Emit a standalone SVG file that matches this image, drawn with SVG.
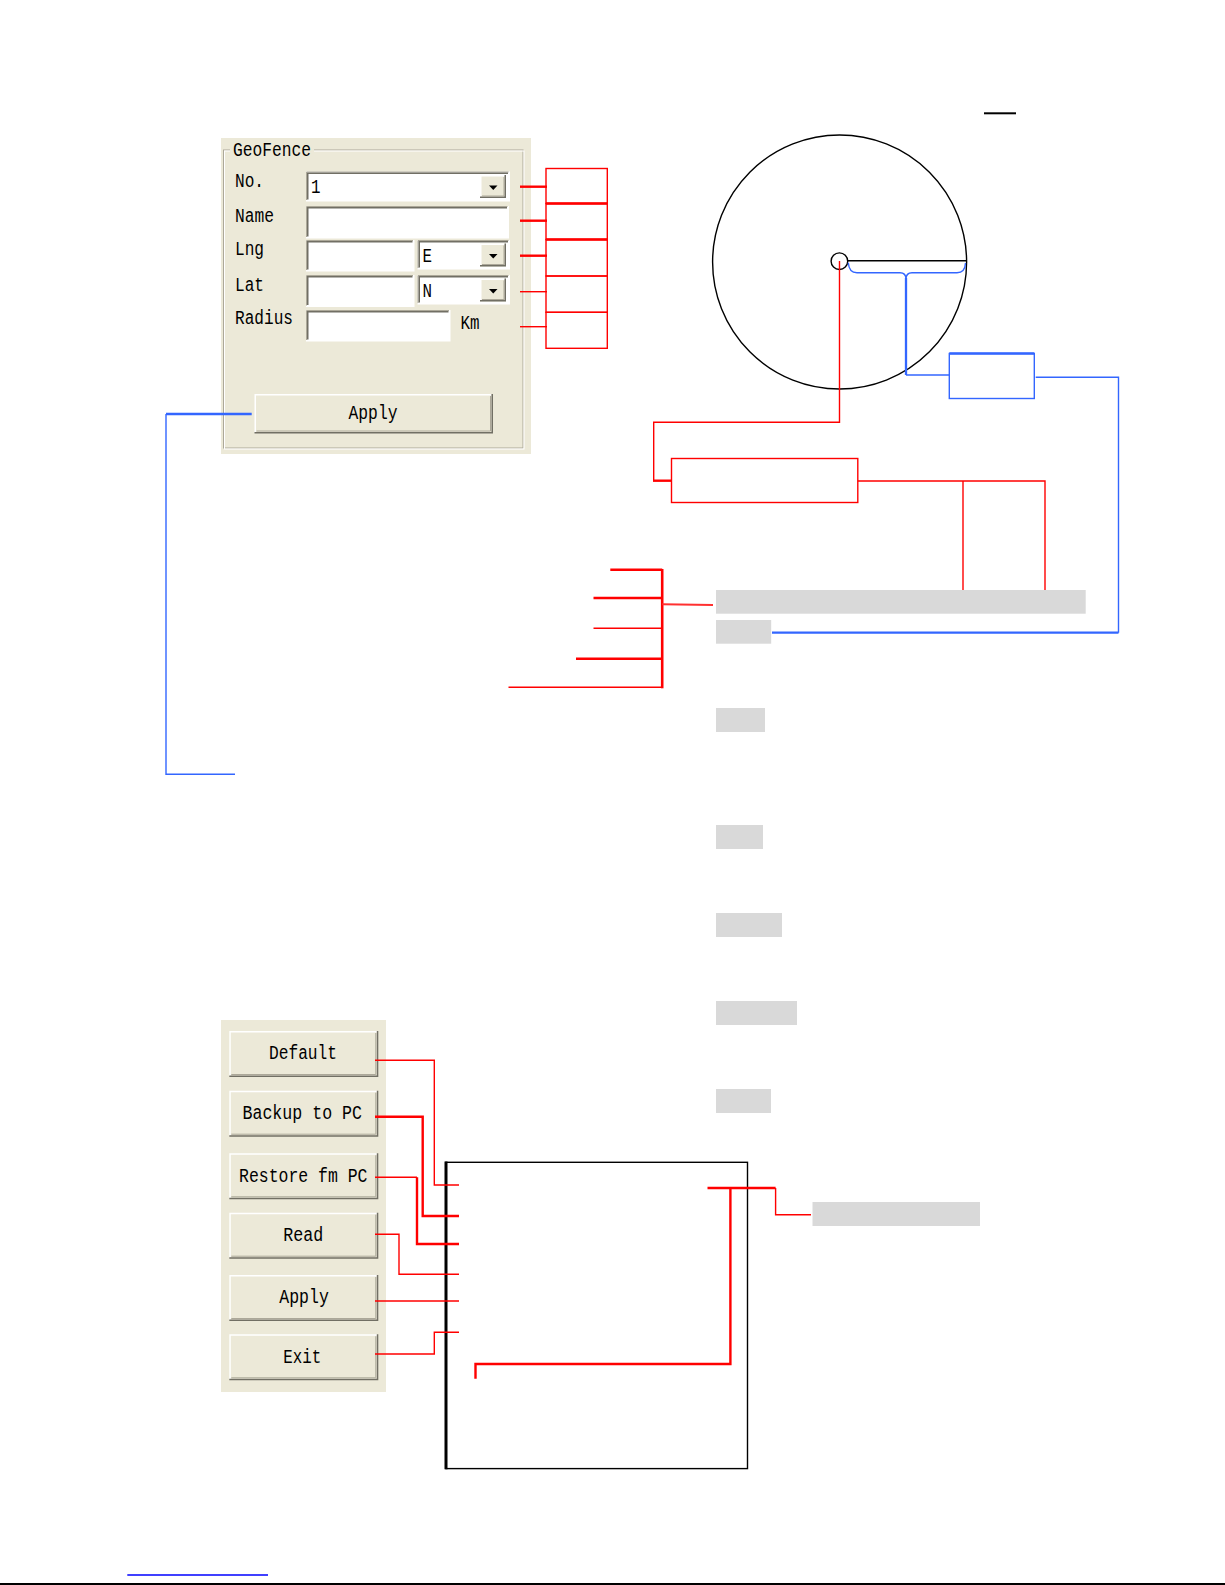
<svg xmlns="http://www.w3.org/2000/svg" xmlns:xlink="http://www.w3.org/1999/xlink" width="1225" height="1585" viewBox="0 0 1225 1585">
<style>
.bg{fill:#ECE9D8}
.ui{font-family:"Liberation Mono","DejaVu Sans Mono",monospace;font-size:20px;fill:#000}
.r{stroke:#FF0000;fill:none;stroke-width:1.4}
.rt{stroke:#FF0000;fill:none;stroke-width:2.4}
.b{stroke:#3366FF;fill:none;stroke-width:1.4}
.bt{stroke:#3366FF;fill:none;stroke-width:2.3}
.k{stroke:#000;fill:none;stroke-width:1.4}
.g{fill:#D9D9D9}
.hl{stroke:#FFFFFF;fill:none;stroke-width:1.5}
.sh{stroke:#716F64;fill:none;stroke-width:1.5}
.sh2{stroke:#ACA899;fill:none;stroke-width:1}
.fw{fill:#FFFFFF}
.tri{fill:#000}
</style>
<defs>
<g id="btn6">
<rect x="0" y="0" width="149" height="46" class="bg"/>
<path d="M0.75,45 V0.75 H148" class="hl"/>
<path d="M0,45.25 H148.25 V0" class="sh"/>
<path d="M2,43.5 H146.5 V2" class="sh2"/>
</g>
<g id="ddbtn">
<rect x="0" y="0" width="26" height="23" class="bg"/>
<path d="M0.75,22 V0.75 H25" class="hl"/>
<path d="M0,22.25 H25.25 V0" class="sh"/>
<path d="M2,21 H24 V2" class="sh2"/>
<path d="M9,10.5 H17.5 L13.25,15 Z" class="tri"/>
</g>
</defs>
<rect x="0" y="0" width="1225" height="1585" fill="#FFFFFF"/>

<g id="geofence-panel">
<rect x="221" y="138" width="310" height="316" class="bg"/>
<rect x="223.5" y="150" width="299.5" height="298" fill="none" stroke="#ACA899" stroke-width="1"/>
<rect x="224.5" y="151" width="299.5" height="298" fill="none" stroke="#FFFFFF" stroke-width="1"/>
<rect x="230" y="141" width="84" height="16" class="bg"/>
<text class="ui" x="233" y="156" textLength="78" lengthAdjust="spacingAndGlyphs">GeoFence</text>
<text class="ui" x="235" y="187" textLength="29" lengthAdjust="spacingAndGlyphs">No.</text>
<text class="ui" x="235" y="221.5" textLength="39" lengthAdjust="spacingAndGlyphs">Name</text>
<text class="ui" x="235" y="254.5" textLength="29" lengthAdjust="spacingAndGlyphs">Lng</text>
<text class="ui" x="235" y="290.5" textLength="29" lengthAdjust="spacingAndGlyphs">Lat</text>
<text class="ui" x="235" y="324" textLength="58" lengthAdjust="spacingAndGlyphs">Radius</text>
<text class="ui" x="460.5" y="329" textLength="19" lengthAdjust="spacingAndGlyphs">Km</text>

<g id="field-no">
<rect x="306" y="171.5" width="203" height="29" class="fw"/>
<path d="M306.5,200.5 V172 H509" class="sh2"/>
<path d="M307.75,199.5 V173.25 H508" class="sh"/>
<path d="M306,200.75 H509.25 V171.5" class="hl"/>
<use xlink:href="#ddbtn" x="480" y="175"/>
<text class="ui" x="311" y="193.3" textLength="9.5" lengthAdjust="spacingAndGlyphs">1</text>
</g>
<g id="field-name">
<rect x="306" y="206" width="202" height="31.5" class="fw"/>
<path d="M306.5,237.5 V206.5 H508" class="sh2"/>
<path d="M307.75,236.5 V207.75 H507" class="sh"/>
<path d="M306,237.75 H508.25 V206" class="hl"/>
</g>
<g id="field-lng">
<rect x="306" y="240" width="107.5" height="30.5" class="fw"/>
<path d="M306.5,270.5 V240.5 H413.5" class="sh2"/>
<path d="M307.75,269.5 V241.75 H412.5" class="sh"/>
<path d="M306,270.75 H413.75 V240" class="hl"/>
<rect x="417.5" y="240" width="91.5" height="28.5" class="fw"/>
<path d="M418,268.5 V240.5 H509" class="sh2"/>
<path d="M419.25,267.5 V241.75 H508" class="sh"/>
<path d="M417.5,268.75 H509.25 V240" class="hl"/>
<use xlink:href="#ddbtn" x="480" y="243.5"/>
<text class="ui" x="422.5" y="261.7" textLength="9.5" lengthAdjust="spacingAndGlyphs">E</text>
</g>
<g id="field-lat">
<rect x="306" y="275" width="107.5" height="31" class="fw"/>
<path d="M306.5,306 V275.5 H413.5" class="sh2"/>
<path d="M307.75,305 V276.75 H412.5" class="sh"/>
<path d="M306,306.25 H413.75 V275" class="hl"/>
<rect x="417.5" y="275" width="91.5" height="28.5" class="fw"/>
<path d="M418,303.5 V275.5 H509" class="sh2"/>
<path d="M419.25,302.5 V276.75 H508" class="sh"/>
<path d="M417.5,303.75 H509.25 V275" class="hl"/>
<use xlink:href="#ddbtn" x="480" y="278.5"/>
<text class="ui" x="422.5" y="296.7" textLength="9.5" lengthAdjust="spacingAndGlyphs">N</text>
</g>
<g id="field-radius">
<rect x="306" y="310" width="143.5" height="30.5" class="fw"/>
<path d="M306.5,340.5 V310.5 H449.5" class="sh2"/>
<path d="M307.75,339.5 V311.75 H448.5" class="sh"/>
<path d="M306,340.75 H449.75 V310" class="hl"/>
</g>
<g id="btn-apply-geo">
<rect x="254.5" y="394" width="238" height="39.5" class="bg"/>
<path d="M255.25,432.5 V394.75 H491.5" class="hl"/>
<path d="M254.5,432.75 H492.25 V394" class="sh"/>
<path d="M256.5,431 H490.5 V396" class="sh2"/>
<text class="ui" x="348.5" y="419" textLength="49" lengthAdjust="spacingAndGlyphs">Apply</text>
</g>
</g>

<g id="red-boxes">
<rect x="546" y="168.5" width="61.3" height="35" class="r"/>
<rect x="546" y="203.5" width="61.3" height="36" class="r"/>
<rect x="546" y="239.5" width="61.3" height="36.5" class="r"/>
<rect x="546" y="276" width="61.3" height="36.3" class="r"/>
<rect x="546" y="312.3" width="61.3" height="36" class="r"/>
<line x1="546" y1="203.5" x2="607.3" y2="203.5" class="rt"/>
<line x1="546" y1="239.5" x2="607.3" y2="239.5" class="rt"/>
</g>

<g id="circle-fence">
<circle cx="839.6" cy="262" r="127" class="k"/>
<circle cx="839.4" cy="261.2" r="8.3" class="k"/>
<line x1="847.7" y1="260.8" x2="966" y2="260.8" class="k"/>
<line x1="984" y1="113.3" x2="1016" y2="113.3" stroke="#000" stroke-width="2"/>
</g>

<g id="blue-box">
<rect x="949.3" y="353.5" width="85" height="45" class="b"/>
<line x1="949.3" y1="353.5" x2="1034.3" y2="353.5" class="bt"/>
</g>

<g id="red-box">
<rect x="671.5" y="458.5" width="186.3" height="44" class="r"/>
</g>

<g id="gray-bars">
<rect x="716" y="590" width="369.7" height="23.7" class="g"/>
<rect x="716" y="620" width="55.2" height="23.7" class="g"/>
<rect x="716" y="708" width="49" height="24" class="g"/>
<rect x="716" y="825" width="47" height="24" class="g"/>
<rect x="716" y="913" width="66" height="24" class="g"/>
<rect x="716" y="1001" width="81" height="24" class="g"/>
<rect x="716" y="1089" width="55" height="24" class="g"/>
<rect x="812.5" y="1202" width="167.5" height="24" class="g"/>
</g>

<g id="button-panel">
<rect x="221" y="1020" width="165" height="372" class="bg"/>
<g id="btn-default"><use xlink:href="#btn6" x="229.3" y="1031"/><text class="ui" x="269" y="1059.3" textLength="68" lengthAdjust="spacingAndGlyphs">Default</text></g>
<g id="btn-backup"><use xlink:href="#btn6" x="229.3" y="1090.7"/><text class="ui" x="242.5" y="1119" textLength="119.5" lengthAdjust="spacingAndGlyphs">Backup to PC</text></g>
<g id="btn-restore"><use xlink:href="#btn6" x="229.3" y="1153.3"/><text class="ui" x="239" y="1181.7" textLength="128.5" lengthAdjust="spacingAndGlyphs">Restore fm PC</text></g>
<g id="btn-read"><use xlink:href="#btn6" x="229.3" y="1212.7"/><text class="ui" x="283.3" y="1240.7" textLength="40" lengthAdjust="spacingAndGlyphs">Read</text></g>
<g id="btn-apply"><use xlink:href="#btn6" x="229.3" y="1275"/><text class="ui" x="279.3" y="1303.3" textLength="49.5" lengthAdjust="spacingAndGlyphs">Apply</text></g>
<g id="btn-exit"><use xlink:href="#btn6" x="229.3" y="1334.3"/><text class="ui" x="283.3" y="1362.7" textLength="38" lengthAdjust="spacingAndGlyphs">Exit</text></g>
</g>

<g id="black-box">
<rect x="446" y="1162.3" width="301.5" height="306.3" class="k"/>
<line x1="446" y1="1161.6" x2="446" y2="1469.3" stroke="#000" stroke-width="3"/>
</g>

<g id="connectors">
<line x1="520" y1="186.7" x2="547" y2="186.7" class="rt"/>
<line x1="520" y1="220.7" x2="547" y2="220.7" class="rt"/>
<line x1="520" y1="255.7" x2="547" y2="255.7" class="rt"/>
<line x1="520" y1="291.7" x2="547" y2="291.7" class="r"/>
<line x1="520" y1="326.7" x2="547" y2="326.7" class="r"/>

<polyline points="251.7,414 166,414" class="bt"/>
<polyline points="166,414 166,774.3 235,774.3" class="b"/>

<path d="M848.3,262.7 Q849,272.7 857,272.7 H900 Q906,272.7 906,279 Q906,272.7 912,272.7 H957 Q965,272.7 965.5,263" class="b"/>
<line x1="906" y1="278" x2="906" y2="375" class="bt"/>
<line x1="906" y1="375" x2="949.3" y2="375" class="b"/>
<polyline points="1035.7,377.3 1118.5,377.3 1118.5,632.7" class="b"/>
<polyline points="1118.5,632.7 772,632.7" class="bt"/>

<polyline points="839.5,261 839.5,422.3 653.7,422.3 653.7,480.7" class="r"/>
<line x1="653" y1="480.7" x2="671.5" y2="480.7" class="rt"/>
<polyline points="857.8,481 1045,481 1045,590" class="r"/>
<line x1="963" y1="481" x2="963" y2="590" class="r"/>

<line x1="662.2" y1="569" x2="662.2" y2="688.3" stroke="#FF0000" stroke-width="2.6"/>
<line x1="610.3" y1="569.7" x2="662.2" y2="569.7" class="rt"/>
<line x1="593.5" y1="598" x2="662.2" y2="598" class="rt"/>
<line x1="593.5" y1="628.3" x2="662.2" y2="628.3" class="r"/>
<line x1="576" y1="658.7" x2="662.2" y2="658.7" class="rt"/>
<line x1="508.5" y1="687.3" x2="662.2" y2="687.3" class="r"/>
<line x1="662.2" y1="604.3" x2="713" y2="605" stroke="#FF3030" stroke-width="2"/>

<polyline points="375,1060.3 434.3,1060.3 434.3,1185 459,1185" class="r"/>
<polyline points="375,1116.7 422.7,1116.7 422.7,1216 459,1216" class="rt"/>
<polyline points="375,1177.3 417,1177.3" class="r"/>
<polyline points="417,1177.3 417,1244 459,1244" class="rt"/>
<polyline points="375,1234.3 399,1234.3 399,1274.3 459,1274.3" class="r"/>
<polyline points="375,1301 459,1301" class="r"/>
<polyline points="375,1354 434.3,1354 434.3,1332.3 459,1332.3" class="r"/>
<polyline points="475.5,1378.7 475.5,1364 730.4,1364 730.4,1188" class="rt"/>
<line x1="707.5" y1="1188" x2="775.6" y2="1188" class="rt"/>
<polyline points="775.6,1188 775.6,1214.7 811,1214.7" class="r"/>
</g>

<g id="footer">
<line x1="127.3" y1="1575" x2="268" y2="1575" stroke="#0000FF" stroke-width="1.4"/>
<line x1="0" y1="1584" x2="1225" y2="1584" stroke="#000" stroke-width="2"/>
</g>
</svg>
